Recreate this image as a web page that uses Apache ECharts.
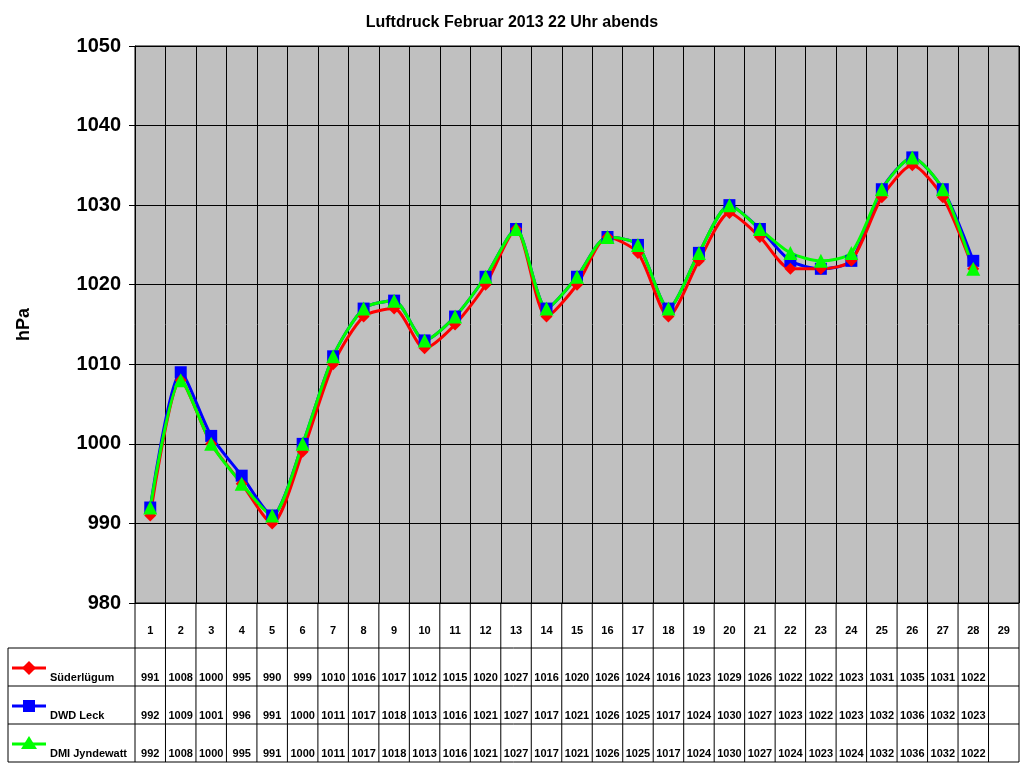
<!doctype html>
<html>
<head>
<meta charset="UTF-8">
<title>Luftdruck Februar 2013</title>
<script src="https://cdn.jsdelivr.net/npm/echarts@6/dist/echarts.min.js"></script>
<style>
  html, body { margin: 0; padding: 0; background: #fff; }
  #chart { width: 1024px; height: 768px; }
</style>
</head>
<body>
<div id="chart"></div>
<script>
var days = ['1','2','3','4','5','6','7','8','9','10','11','12','13','14','15','16','17','18','19','20','21','22','23','24','25','26','27','28','29'];
var suederluegum = [991,1008,1000,995,990,999,1010,1016,1017,1012,1015,1020,1027,1016,1020,1026,1024,1016,1023,1029,1026,1022,1022,1023,1031,1035,1031,1022];
var dwdLeck = [992,1009,1001,996,991,1000,1011,1017,1018,1013,1016,1021,1027,1017,1021,1026,1025,1017,1024,1030,1027,1023,1022,1023,1032,1036,1032,1023];
var dmiJyndewatt = [992,1008,1000,995,991,1000,1011,1017,1018,1013,1016,1021,1027,1017,1021,1026,1025,1017,1024,1030,1027,1024,1023,1024,1032,1036,1032,1022];

var seriesDefs = [
  { name: 'Süderlügum', data: suederluegum, color: '#FF0000', symbol: 'diamond', size: 12 },
  { name: 'DWD Leck', data: dwdLeck, color: '#0000FF', symbol: 'rect', size: 12 },
  { name: 'DMI Jyndewatt', data: dmiJyndewatt, color: '#00FF00', symbol: 'triangle', size: 14 }
];
var seriesOrder = [1, 0, 2]; // draw order: blue, red, green on top

var L = 135, R = 1019, T = 46, B = 603;
var chart = echarts.init(document.getElementById('chart'));

chart.setOption({
  animation: false,
  title: {
    text: 'Luftdruck Februar 2013 22 Uhr abends',
    left: 'center', top: 10,
    textStyle: { fontFamily: 'Arial', fontWeight: 'bold', fontSize: 16, color: '#000' }
  },
  grid: {
    left: L, right: 1024 - R, top: T, bottom: 768 - B,
    show: true, backgroundColor: '#C0C0C0', borderColor: '#000', borderWidth: 1
  },
  xAxis: {
    type: 'category', data: days, boundaryGap: true,
    axisLine: { show: false }, axisTick: { show: false }, axisLabel: { show: false },
    splitLine: { show: true, interval: 0, lineStyle: { color: '#000', width: 1 } }
  },
  yAxis: {
    type: 'value', min: 980, max: 1050, interval: 10,
    name: 'hPa', nameLocation: 'middle', nameGap: 102, nameRotate: 90,
    nameTextStyle: { fontFamily: 'Arial', fontWeight: 'bold', fontSize: 18, color: '#000' },
    axisLine: { show: true, lineStyle: { color: '#000' } },
    axisTick: { show: true, inside: false, length: 6, lineStyle: { color: '#000' } },
    axisLabel: { fontFamily: 'Arial', fontWeight: 'bold', fontSize: 20, color: '#000', margin: 14,
      formatter: function (v) { return String(v); } },
    splitLine: { show: true, lineStyle: { color: '#000', width: 1 } }
  },
  series: seriesOrder.map(function (k) {
    var s = seriesDefs[k];
    return {
      name: s.name, type: 'line', data: s.data, smooth: 0.25,
      symbol: s.symbol, symbolSize: s.size, showSymbol: true,
      lineStyle: { color: s.color, width: 3 },
      itemStyle: { color: s.color }
    };
  })
});

// data table below the plot
var cw = (R - L) / days.length;
var rowTop = [603, 648, 686, 724, 762];
var g = [];
function line(x1, y1, x2, y2) {
  g.push({ type: 'line', shape: { x1: x1, y1: y1, x2: x2, y2: y2 }, style: { stroke: '#000', lineWidth: 1 } });
}
function text(x, y, t, align) {
  g.push({ type: 'text', x: x, y: y, style: { text: t, fill: '#000', font: 'bold 11px Arial', align: align || 'center', verticalAlign: 'middle' } });
}
for (var i = 0; i <= days.length; i++) {
  var x = L + i * cw;
  line(x, 603, x, 762);
}
line(8, 648, R, 648);
line(8, 686, R, 686);
line(8, 724, R, 724);
line(8, 762, R, 762);
line(8, 648, 8, 762);
days.forEach(function (d, i) {
  var cx = chart.convertToPixel({ xAxisIndex: 0 }, i);
  text(cx, 631, d);
});
seriesDefs.forEach(function (s, r) {
  var y0 = rowTop[r + 1], ty = y0 + 30;
  var ly = y0 + 20;
  g.push({ type: 'line', shape: { x1: 12, y1: ly, x2: 46, y2: ly }, style: { stroke: s.color, lineWidth: 3 } });
  if (s.symbol === 'diamond') {
    g.push({ type: 'polygon', shape: { points: [[29, ly - 7], [36, ly], [29, ly + 7], [22, ly]] }, style: { fill: s.color } });
  } else if (s.symbol === 'rect') {
    g.push({ type: 'rect', shape: { x: 23, y: ly - 6, width: 12, height: 12 }, style: { fill: s.color } });
  } else {
    g.push({ type: 'polygon', shape: { points: [[29, ly - 8], [37, ly + 5], [21, ly + 5]] }, style: { fill: s.color } });
  }
  text(50, ty, s.name, 'left');
  s.data.forEach(function (v, i) {
    var cx = chart.convertToPixel({ xAxisIndex: 0 }, i);
    text(cx, ty, String(v));
  });
});
chart.setOption({ graphic: g });
</script>
</body>
</html>
